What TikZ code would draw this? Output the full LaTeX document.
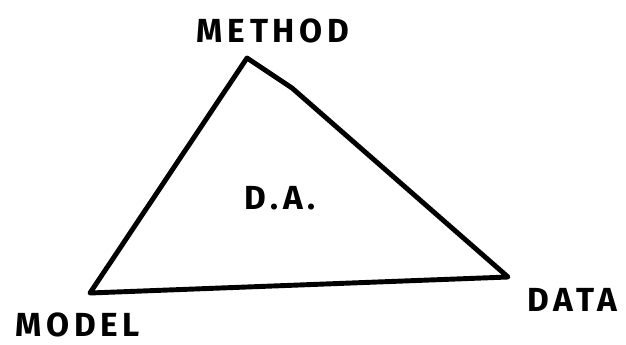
\documentclass[tikz,border=0pt]{standalone}
\usepackage{fontspec}
\setmainfont{Fira Sans}[UprightFont=* Bold, LetterSpace=14]

\tikzset{
    cornerlabel/.style={font=\fontsize{19}{21}\selectfont, inner sep=0pt}
}

\begin{document}
\begin{tikzpicture}[x=0.02cm, y=-0.02cm]

    % Frame
    \useasboundingbox (0,0) rectangle (626,345);

    % Corners
    \coordinate (method) at (247,58);
    \coordinate (kink) at (292,88);
    \coordinate (model) at (90,293);
    \coordinate (data) at (508,277);

    % Triangle
    \draw[line width=2.8pt, line join=round, line cap=round]
        (method) -- (kink) -- (data) -- (model) -- cycle;

    % Labels
    \node[cornerlabel] (methodlabel) at (273,31) {METHOD};
    \node[cornerlabel] (modellabel) at (78,325) {MODEL};
    \node[cornerlabel] (datalabel) at (572,300) {DATA};
    \node[cornerlabel] (dalabel) at (280,198) {D.A.};

\end{tikzpicture}
\end{document}
